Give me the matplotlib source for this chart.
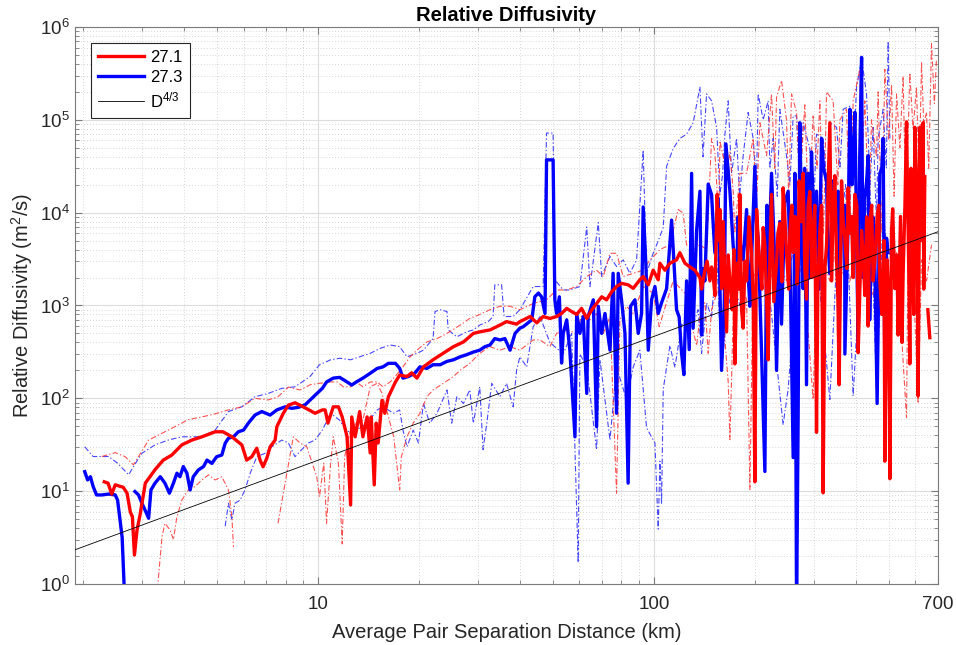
import numpy as np
import matplotlib
matplotlib.use("Agg")
import matplotlib.pyplot as plt
from matplotlib.ticker import FixedLocator, LogLocator, NullFormatter, FixedFormatter

plt.rcParams['font.family'] = ['Liberation Sans', 'DejaVu Sans']
plt.rcParams['mathtext.default'] = 'regular'

nan = np.nan

# ---- sigma 27.1 (thick red) ----
r271_x = [2.31, 2.37, 2.43, 2.49, 2.63, 2.70, 2.76, 2.80, 2.84, 2.89, 2.95, 3.06, 3.27, 3.46, 3.67,
          3.93, 4.21, 4.51, 4.94, 5.21, 5.54, 5.93, 6.13, 6.35, 6.57, 6.72, 6.86, 7.04, 7.20, 7.45,
          7.54, 7.88, 8.16, 8.54, 9.15, 9.80, 10.3, 10.5, 10.7, 11.1, 11.5, 11.8, 12.2, 12.5, 12.6,
          12.9, 13.3, 13.6, 14.0, 14.3, 14.4, 14.7, 14.9, 15.1, 15.5, 15.8, 16.2, 17.0, 17.5, 18.4,
          19.0, 19.7, 20.6, 22.0, 23.6, 25.3, 27.1, 29.0, 30.3, 32.5, 34.8, 36.4, 39.0, 39.9, 42.8,
          44.8, 46.8, 49.0, 51.3, 53.1, 55.0, 56.9, 58.9, 60.9, 63.1, 65.2, 67.5, 69.9, 72.3, 74.8,
          77.4, 80.1, 83.8, 86.8, 90.8, 92.9, 96.2, 99.5, 103.0, 104.2, 107.8, 111.6, 116.8, 119.5,
          123.7, 128.0, 132.4, 137.1, 141.8, 146.8, 148.5, 151.9, 154.3, 157.2, 159.0, 162.7, 164.6,
          168.4, 174.2, 177.0, 180.3, 182.4, 184.4, 188.8, 195.3, 199.8, 202.2, 206.8, 211.5, 218.9,
          224.0, 231.8, 237.1, 242.5, 248.2, 254.0, 259.8, 262.8, 265.9, 268.8, 270.6, 278.1, 284.7,
          291.2, 297.9, 304.9, 311.9, 319.1, 326.6, 334.1, 338.0, 341.7, 349.8, 356.1, 362.0, 370.3,
          378.8, 387.7, 396.6, 405.7, 415.3, 424.6, 439.5, 449.5, 462.0, 470.6, 487.1, 494.8, 504.1,
          510.0, 521.7, 533.6, 542.4, 552.1, 565.1, 578.0, 588.9, 598.3, 612.0, 619.2, 633.3, 640.7,
          648.0, 654.0, 663.0]
r271_y = [12.6, 12.2, 9.3, 11.7, 11.0, 9.5, 6.0, 5.3, 2.05, 3.8, 5.5, 12.2, 17, 21.6, 24.5,
          31.5, 35.5, 38.5, 43.6, 43.6, 38.5, 31.5, 21.6, 23.5, 29, 21.6, 18.3, 22.7, 30, 35.5,
          49.5, 69, 84.5, 89.5, 79, 69, 75, 75, 54, 81, 81, 63, 38.5, 7.1, 63,
          38.5, 72, 38.5, 63, 25.8, 63, 11.7, 54, 33, 95, 69, 104, 150, 178, 172,
          188, 165, 218, 260, 306, 360, 405, 500, 520, 545, 615, 670, 630, 670, 760,
          650, 760, 725, 760, 820, 930, 860, 800, 930, 725, 890, 1050, 1240, 1150, 1400,
          1600, 1730, 1670, 1530, 1890, 2050, 1670, 2400, 1890, 2850, 2400, 2850, 3100, 3700,
          2850, 2600, 2400, 2000, 2400, 1840, 2600, 1280, 15700, 10800, 1520, 2000, 520,
          1840, 235, 2850, 15700, 900, 570, 1840, 3700, 12.6, 10800, 2600, 6900, 260,
          15700, 2850, 7700, 18500, 3700, 6400, 3700, 9100, 4500, 2850, 22000, 26500, 1170,
          16900, 6400, 43, 6400, 9.6, 4500, 93000, 1840, 10800, 3100, 140, 22000, 5300,
          18500, 9100, 15700, 310, 6400, 1280, 7700, 1840, 9100, 1840, 21, 3100, 13.6,
          6400, 1520, 480, 9100, 2200, 95000, 235, 3700, 83000, 106, 83000, 93000, 24500,
          nan, 900, 450]
# further readings in the crowded band beyond ~140 km
r271_more_x = [138.7, 144.0, 150.0, 156.0, 160.8, 166.4, 171.0, 173.0, 179.0, 186.6, 191.9, 197.5,
               204.4, 209.7, 214.0, 217.0, 221.5, 227.5, 234.0, 240.5, 245.4, 252.0, 257.5, 267.0,
               274.6, 281.4, 287.8, 295.3, 301.4, 307.7, 315.6, 323.0, 329.5, 340.0, 345.8, 353.0,
               366.0, 375.5, 383.2, 392.0, 402.0, 410.4, 419.8, 430.0, 434.4, 445.0, 454.8, 467.0,
               477.0, 484.0, 500.0, 514.0, 529.0, 548.0, 559.0, 575.0, 583.0, 594.0, 606.0, 627.0,
               636.0]
r271_more_y = [1500, 3000, 2200, 5000, 8000, 3500, 900, 4000, 1500, 3000, 9000, 1200,
               5000, 1500, 4500, 900, 3500, 1100, 6000, 1800, 9000, 1500, 12000, 1700,
               8000, 2500, 12000, 2000, 12000, 1500, 12000, 2500, 15000, 5000, 25000, 1200,
               8000, 2500, 6000, 2000, 12000, 1500, 3500, 9000, 600, 12000, 3000, 12000,
               800, 5000, 1200, 11000, 3500, 400, 12000, 1500, 30000, 800, 20000, 5000,
               1500]

# ---- sigma 27.3 (thick blue) ----
b273_x = [2.02, 2.06, 2.10, 2.14, 2.19, 2.27, 2.38, 2.49, 2.53, 2.61, 2.66, 2.75, 2.85, 2.92, 2.99,
          3.07, 3.13, 3.18, 3.27, 3.39, 3.50, 3.61, 3.71, 3.80, 3.88, 3.97, 4.07, 4.16, 4.25, 4.40,
          4.56, 4.67, 4.83, 4.99, 5.17, 5.29, 5.41, 5.60, 5.79, 6.00, 6.20, 6.49, 6.80, 7.20, 7.54,
          7.98, 8.35, 8.74, 9.15, 9.47, 9.80, 10.3, 10.6, 11.1, 11.6, 12.2, 12.6, 13.0, 13.6, 14.3,
          15.0, 15.6, 16.2, 17.0, 17.5, 17.9, 18.6, 19.4, 20.1, 21.1, 22.0, 23.1, 24.2, 25.3, 26.5,
          27.7, 29.0, 30.3, 31.4, 32.5, 33.6, 34.8, 36.0, 37.3, 38.6, 39.9, 40.8, 43.3, 44.2, 45.3,
          46.3, 47.4, 47.9, 49.6, 50.1, 50.7, 51.3, 52.3, 53.1, 53.7, 55.0, 56.2, 58.2, 58.9, 60.2,
          61.6, 63.1, 63.7, 66.0, 67.5, 68.3, 69.9, 71.5, 74.0, 75.6, 77.4, 78.3, 80.1, 82.0, 83.8,
          85.2, 87.8, 89.8, 91.9, 92.9, 94.7, 96.2, 98.4, 100.7, 103.0, 105.4, 109.1, 112.9, 115.5,
          116.8, 118.9, 120.9, 122.8, 125.1, 127.4, 129.5, 130.9, 134.0, 137.1, 138.7, 141.8, 145.1,
          148.5, 151.9, 155.4, 159.0, 163.8, 168.4, 172.2, 176.3, 180.3, 184.4, 188.8, 193.1, 199.8,
          204.4, 209.2, 214.0, 218.9, 224.0, 231.8, 239.9, 245.4, 251.0, 254.0, 259.8, 262.8, 265.9,
          268.8, 271.9, 278.1, 284.7, 287.8, 294.6, 304.9, 315.6, 326.6, 334.1, 341.7, 353.6, 362.0,
          370.3, 378.8, 383.2, 392.0, 396.6, 401.3, 405.7, 415.3, 424.6, 434.4, 444.6, 454.8, 462.0,
          470.6, 481.4, 492.8, 498.2]
b273_y = [16.2, 13.2, 14.3, 11.2, 9.1, 9.1, 9.3, 9.1, 8.0, 3.2, 0.6, nan, 9.9, 9.1, 7.4,
          6.0, 5.1, 10.3, 12.2, 14.3, 12.2, 9.5, 12.2, 15.6, 14.3, 18.4, 15.6, 10.3, 14.3, 16.9,
          18.4, 21.6, 19.9, 23.5, 24.5, 32.8, 37.2, 38.5, 43.6, 45.5, 54, 66, 72, 66, 75,
          81, 78, 80, 85, 96, 108, 128, 150, 165, 168, 150, 139, 150, 165, 186,
          210, 218, 238, 238, 210, 165, 172, 186, 218, 210, 230, 230, 250, 260, 280,
          295, 315, 330, 360, 375, 440, 425, 440, 330, 500, 570, 590, 700, 1240, 1360,
          1240, 820, 37000, 37000, 37000, 1150, 820, 1240, 240, 500, 700, 330, 38.5, 820, 500,
          760, 113, 760, 1150, 49.5, 980, 500, 820, 330, 2220, 69, 2220, 1150, 500, 12.2,
          980, 1150, 500, 820, 11500, 2630, 330, 1150, 1600, 820, 1070, 1520, 8300, 1840,
          900, 750, 305, 180, 1840, 335, 26500, 570, 6400, 17000, 480, 1840, 20300,
          15600, 3700, 14300, 200, 55000, 17000, 4400, 1840, 4900, 3100, 10800, 980, 31500,
          5300, 305, 16.3, 2200, 26500, 200, 630, 13000, 17000, 3700, 23, 26500, 0.5,
          62, 93000, 1520, 140, 26500, 45000, 17000, 63000, 22000, 2200, 22000, 17000, 6900,
          300, 8000, 130000, 34500, 120000, 6400, 335, 470000, 14300, 41000, 6400, 3100, 88,
          26500, 63000, 5300, 3700]
b273_more_x = [140.0, 150.0, 162.0, 178.0, 191.0, 202.0, 217.0, 229.0, 237.0, 276.0, 281.0, 291.0,
               299.0, 310.0, 320.0, 329.5, 348.0, 358.0, 370.0, 389.0, 410.0, 419.0, 430.0, 439.0,
               449.0, 467.0, 477.0, 487.0]
b273_more_y = [2500, 8000, 1000, 9000, 2000, 8000, 12000, 3000, 8000, 5000, 30000, 2000,
               8000, 1500, 30000, 5000, 9000, 1500, 12000, 20000, 40000, 2000, 22000, 700,
               9000, 2000, 30000, 200]

# ---- 27.1 bounds (thin red dash-dot) ----
r271_hi_x = [2.27, 2.49, 2.66, 2.82, 2.92, 3.13, 3.43, 3.75, 4.11, 4.51, 4.94, 5.41, 5.93, 6.49, 7.11,
             7.60, 8.16, 8.84, 9.47, 10.1, 10.9, 11.4, 11.9, 12.5, 13.0, 13.6, 14.3, 15.0, 15.6, 16.4,
             17.1, 17.9, 18.8, 19.7, 21.1, 22.6, 24.2, 26.5, 28.3, 30.3, 32.5, 34.8, 37.3, 39.9, 43.7,
             47.9, 51.3, 55.0, 58.9, 63.1, 67.5, 70.7, 74.0, 77.4, 81.0, 86.8, 92.9, 97.3, 101.9, 104.2,
             111.6, 118.1, 122.2, 125.1, 130.9, 137.1, 143.5, 148.5, 151.9, 156.0, 157.2, 164.6, 168.4,
             172.2, 174.0, 180.3, 188.8, 197.5, 202.0, 206.8, 216.5, 224.0, 229.0, 231.8, 239.9, 248.2,
             252.0, 256.9, 265.9, 272.0, 281.4, 289.0, 297.9, 306.0, 311.9, 320.0, 326.6, 341.7, 353.0,
             357.8, 374.6, 383.0, 392.0, 410.4, 415.0, 424.6, 437.0, 444.6, 460.0, 465.2, 477.0, 487.1,
             500.0, 510.0, 519.0, 527.8, 540.0, 552.1, 563.0, 578.0, 591.0, 605.3, 616.0, 626.4, 636.0,
             648.2, 658.0, 670.8, 684.0, 694.0]
r271_hi_y = [23.6, 26, 23.6, 19.2, 23.6, 35.5, 42, 49.5, 59, 63, 68, 75, 81, 100, 96,
             104, 132, 123, 140, 145, 150, 150, 133, 133, 150, 133, 150, 150, 133, 150,
             178, 218, 280, 330, 405, 440, 500, 615, 725, 800, 900, 980, 980, 900, 1050,
             1150, 1470, 1470, 1600, 2050, 2400, 2050, 3650, 3650, 2050, 2220, 2400, 3100, 3650, 4000,
             4500, 10800, 9900, 4500, 4000, 4500, 4000, 63000, 45000, 8000, 59000, 26500, 45000,
             17000, 6000, 26500, 26500, 63000, 12000, 93000, 41000, 190000, 30000, 175000, 265000, 100000,
             15000, 190000, 120000, 20000, 145000, 9000, 110000, 30000, 160000, 6000, 200000, 160000, 20000,
             100000, 130000, 8000, 160000, 350000, 30000, 160000, 10000, 100000, 40000, 200000, 6000, 350000,
             60000, 240000, 15000, 190000, 50000, 295000, 10000, 320000, 80000, 225000, 20000, 420000, 90000,
             120000, 30000, 660000, 150000, 455000]

r271_lo_x = [3.28, 3.43, 3.50, 3.63, 3.71, 3.80, 3.93, 4.11, 4.30, 4.51, 4.72, 4.94, 5.17, 5.41, 5.54,
             5.60, 7.55, 7.60, 8.44, 8.84, 9.26, 9.68, 9.91, 10.1, 10.4, 10.6, 10.9, 11.1, 11.5, 11.8,
             12.0, 12.5, 13.0, 13.6, 14.3, 15.0, 15.5, 16.0, 16.8, 17.5, 17.7, 18.4, 19.2, 20.1, 21.1,
             22.0, 23.6, 25.3, 26.5, 28.3, 30.3, 32.5, 34.8, 37.3, 39.9, 43.7, 45.8, 49.0, 51.3, 55.0,
             58.9, 61.6, 64.5, 67.5, 70.7, 74.0, 77.4, 79.2, 82.9, 86.8, 92.9, 99.5, 103.7, 114.1, 125.1,
             128.0, 130.9, 134.0, 137.1, 141.8, 145.1, 148.5, 155.4, 160.8, 166.4, 168.4, 172.2, 180.3,
             188.8, 193.1, 197.5, 206.8, 216.5, 226.5, 237.1, 248.2, 259.8, 265.9, 278.1, 297.9, 304.9,
             319.1, 334.1, 349.8, 366.0, 383.2, 401.3, 419.8, 439.5, 460.1, 481.4, 504.1, 527.8, 565.1,
             571.3, 591.3, 612.0, 626.4, 648.2, 670.8]
r271_lo_y = [0.5, 3.2, 4.5, 3.8, 3.0, 5.3, 8.0, 10.3, 11.2, 13.2, 15, 13.2, 14.3, 10.3, 5.3,
             2.5, nan, 4.5, 38.5, 33, 30, 18.4, 14.3, 8.7, 20, 4.5, 20, 38.5, 20, 2.7,
             23.5, 45.5, 54, 58, 133, 145, 113, 75, 38.5, 10.3, 23.5, 38.5, 54, 69, 104,
             123, 145, 172, 200, 238, 305, 360, 330, 360, 330, 425, 425, 360, 500, 545,
             500, 900, 700, 820, 500, 760, 9.5, 700, 980, 820, 1600, 1360, 590, 1840, 1300,
             1070, 530, 370, 750, 1070, 305, 900, 1520, 750, 150, 36, 750, 1840,
             1170, 10.4, 2200, 1840, 3100, 1840, 2850, 1840, 3700, 1840, 2850, 97, 1840,
             3100, 1840, 4500, 2200, 1840, 3700, 3100, 1070, 1840, 3100, 1840, 3700, 62,
             4500, 2200, 88, 3100, 1840, 4500]

# ---- 27.3 bounds (thin blue dash-dot) ----
b273_hi_x = [2.02, 2.14, 2.38, 2.53, 2.73, 2.82, 2.99, 3.27, 3.58, 3.93, 4.21, 4.51, 4.94, 5.41, 5.93,
             6.49, 7.11, 7.80, 8.54, 9.47, 10.1, 10.9, 11.6, 12.5, 13.3, 14.3, 15.3, 16.4, 17.5, 18.4,
             19.7, 20.6, 22.0, 22.3, 23.1, 24.2, 24.4, 25.9, 27.7, 29.0, 30.3, 32.1, 33.2, 33.6, 35.2,
             35.8, 38.1, 39.9, 43.7, 46.8, 47.9, 50.1, 50.7, 53.7, 56.2, 60.2, 63.1, 64.5, 68.3, 69.9,
             74.0, 77.4, 81.0, 84.8, 88.8, 92.9, 95.1, 99.5, 101.9, 106.6, 109.1, 114.1, 119.5, 125.1,
             130.9, 137.1, 140.0, 143.5, 148.5, 153.7, 157.2, 160.0, 162.7, 166.4, 170.3, 176.3, 180.0,
             184.4, 190.8, 197.5, 202.0, 204.4, 211.5, 218.9, 221.5, 226.5, 233.0, 237.1, 248.2, 254.0,
             259.8, 265.9, 272.0, 278.1, 291.2, 298.0, 304.9, 319.1, 328.0, 334.1, 349.8, 358.0, 366.0,
             383.2, 392.0, 401.3, 415.3, 429.6, 440.0, 449.5, 460.0, 465.2, 481.4, 492.0, 498.2, 504.1]
b273_hi_y = [30, 23.6, 23.6, 20, 15, 18.4, 25.6, 31.5, 35.5, 38.5, 38.5, 38.5, 45.5, 72, 81,
             104, 113, 128, 133, 172, 230, 260, 270, 260, 280, 305, 345, 375, 360, 280,
             305, 330, 440, 860, 900, 860, 545, 460, 520, 545, 615, 670, 760, 1670, 1670,
             760, 760, 900, 1600, 1600, 72000, 72000, 1890, 1470, 1470, 1600, 7000, 1600, 7800, 2050,
             3370, 2630, 3100, 2220, 3100, 47000, 2220, 3650, 4500, 6900, 31500, 49000, 63000, 70000,
             93000, 225000, 40000, 190000, 160000, 83000, 15600, 25000, 70000, 160000, 26500, 63000, 15000,
             41000, 120000, 63000, 20000, 190000, 100000, 160000, 30000, 63000, 15000, 130000, 41000, 20000,
             110000, 110000, 15000, 93000, 49000, 8000, 70000, 63000, 20000, 93000, 83000, 30000, 130000,
             140000, 40000, 225000, 455000, 190000, 20000, 83000, 8000, 63000, 130000, 30000, 700000, 63000]

b273_lo_x = [5.29, 5.41, 5.54, 5.66, 5.86, 6.06, 6.28, 6.57, 6.96, 7.28, 7.80, 8.16, 8.54, 8.94, 9.36,
             9.80, 10.3, 10.9, 11.6, 12.2, 13.0, 14.0, 15.0, 15.6, 16.8, 17.5, 17.9, 18.4, 19.2, 19.9,
             20.6, 21.5, 22.6, 24.2, 25.0, 25.9, 27.1, 28.3, 29.0, 30.3, 31.0, 31.8, 32.9, 34.8, 36.4,
             38.1, 39.0, 39.9, 41.8, 43.7, 45.8, 49.0, 53.7, 56.9, 59.5, 60.2, 63.1, 67.5, 69.1, 74.0,
             77.4, 82.9, 86.8, 90.8, 95.1, 100.7, 103.0, 104.2, 105.4, 106.6, 111.6, 115.5, 120.9, 126.5,
             130.9, 135.4, 138.7, 143.5, 148.5, 153.7, 159.0, 164.6, 172.2, 180.3, 190.8, 199.8, 211.5,
             224.0, 242.5, 251.0, 265.9, 284.7, 311.9, 334.1, 349.8, 372.0, 392.0, 415.3, 439.5, 460.1,
             481.4, 498.2]
b273_lo_y = [4.2, 7.4, 4.9, 7.4, 8.0, 10.3, 15.6, 23.5, 25.6, 30, 35.5, 33, 23.5, 28, 33,
             35.5, 45.5, 69, 58, 43.6, 45.5, 54, 75, 81, 69, 75, 45.5, 30, 45.5, 33,
             88, 54, 69, 123, 54, 104, 88, 123, 54, 133, 28, 54, 145, 104, 145,
             81, 200, 280, 218, 590, 760, 400, 300, 500, 1.7, 300, 218, 28, 260, 35.5,
             218, 96, 218, 330, 48, 33, 3.9, 21, 7.3, 125, 370, 215, 630, 530,
             630, 900, 305, 1070, 750, 3700, 200, 750, 1840, 1000, 3000, 1500, 5000,
             800, 52, 125, 2000, 5000, 1500, 97, 3000, 20000, 106, 5000, 20000, 125,
             10000, 3000]

# reference slope D^(4/3), drawn across the axis range
ref_x = np.array([1.89, 700.0])
ref_y = ref_x ** (4.0 / 3.0)

x_ticks = [10, 100, 700]
x_ticklabels = ['10', '100', '700']
y_ticks = [1e0, 1e1, 1e2, 1e3, 1e4, 1e5, 1e6]


def merged(xa, ya, xb, yb):
    x = np.concatenate([xa, xb])
    y = np.concatenate([ya, yb])
    order = np.argsort(x, kind='stable')
    return x[order], y[order]


r_x, r_y = merged(r271_x, r271_y, r271_more_x, r271_more_y)
b_x, b_y = merged(b273_x, b273_y, b273_more_x, b273_more_y)

fig = plt.figure(figsize=(9.56, 6.45), dpi=100)
ax = fig.add_axes([0.0785, 0.0946, 0.9024, 0.8636])
ax.set_xscale('log')
ax.set_yscale('log')

dd = (0, (5, 2, 1.2, 2))
ax.plot(b273_hi_x, b273_hi_y, color=(0.15, 0.15, 1.0), lw=0.8, ls=dd, alpha=0.85, zorder=2)
ax.plot(b273_lo_x, b273_lo_y, color=(0.15, 0.15, 1.0), lw=0.8, ls=dd, alpha=0.85, zorder=2)
ax.plot(r271_hi_x, r271_hi_y, color=(1.0, 0.2, 0.2), lw=0.8, ls=dd, alpha=0.85, zorder=2)
ax.plot(r271_lo_x, r271_lo_y, color=(1.0, 0.2, 0.2), lw=0.8, ls=dd, alpha=0.85, zorder=2)

hb, = ax.plot(b_x, b_y, color='blue', lw=2.4, zorder=3, label='27.3')
hr, = ax.plot(r_x, r_y, color='red', lw=2.4, zorder=4, label='27.1')
hk, = ax.plot(ref_x, ref_y, color='black', lw=0.6, zorder=5, label='D$^{4/3}$')

ax.set_xlim(1.89, 700)
ax.set_ylim(1, 1e6)

ax.xaxis.set_major_locator(FixedLocator(x_ticks))
ax.xaxis.set_major_formatter(FixedFormatter(x_ticklabels))
ax.xaxis.set_minor_locator(LogLocator(base=10, subs=np.arange(2, 10)))
ax.xaxis.set_minor_formatter(NullFormatter())
ax.yaxis.set_major_locator(FixedLocator(y_ticks))
ax.yaxis.set_minor_locator(LogLocator(base=10, subs=np.arange(2, 10), numticks=20))
ax.yaxis.set_minor_formatter(NullFormatter())

ax.grid(True, which='major', color='#dcdcdc', lw=0.8, ls='-', zorder=0)
ax.grid(True, which='minor', color='#c8c8c8', lw=0.6, ls=(0, (1, 2.5)), zorder=0)
ax.set_axisbelow(True)

ax.tick_params(which='both', direction='in', top=True, right=True, colors='#7a7a7a',
               labelcolor='#262626', labelsize=13.5)
ax.tick_params(which='major', length=5)
ax.tick_params(which='minor', length=3)
ax.tick_params(axis='x', which='major', pad=8.5)
ax.tick_params(axis='y', which='major', pad=4)
for s in ax.spines.values():
    s.set_color('#7a7a7a')
    s.set_linewidth(0.8)

ax.set_title('Relative Diffusivity', fontsize=14.5, fontweight='bold', pad=4)
ax.set_xlabel('Average Pair Separation Distance (km)', fontsize=14.5, color='#262626', labelpad=7)
ax.set_ylabel('Relative Diffusivity (m$^2$/s)', fontsize=14.5, color='#262626', labelpad=3)

leg = ax.legend(handles=[hr, hb, hk], loc='upper left', bbox_to_anchor=(0.0182, 0.9718),
                borderaxespad=0, fontsize=12, fancybox=False, framealpha=1, edgecolor='#262626',
                handlelength=2.75, borderpad=0.45, labelspacing=0.3, handletextpad=0.35)
leg.get_frame().set_linewidth(0.8)
leg.set_zorder(10)

fig.savefig('out.png', dpi=100)
